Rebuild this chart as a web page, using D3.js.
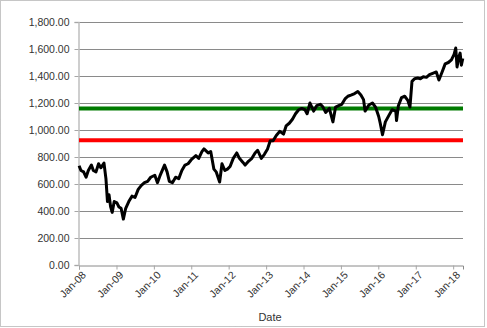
<!DOCTYPE html>
<html>
<head>
<meta charset="utf-8">
<script src="https://cdn.jsdelivr.net/npm/d3@7"></script>
<style>
  body { margin: 0; background: #fff; }
  text { font-family: "Liberation Sans", Arial, sans-serif; fill: #333; }
</style>
</head>
<body>
<script>
// monthly readings (plus a few extra swing points)
const dates = [
  "2008-01-02","2008-01-20","2008-02-15","2008-03-10","2008-04-01","2008-05-01","2008-05-20","2008-06-15","2008-07-10","2008-08-01","2008-09-01","2008-09-20","2008-10-05","2008-10-20","2008-11-05","2008-11-20","2008-12-10",
  "2009-01-05","2009-01-25","2009-02-15","2009-03-09","2009-04-01","2009-05-01","2009-06-01","2009-07-01","2009-08-01","2009-09-01","2009-10-01","2009-11-01","2009-12-01",
  "2010-01-10","2010-02-05","2010-03-01","2010-04-15","2010-05-10","2010-06-01","2010-07-01","2010-08-01","2010-09-01","2010-10-01","2010-11-01","2010-12-01",
  "2011-01-01","2011-02-15","2011-03-15","2011-04-15","2011-05-05","2011-06-15","2011-07-10","2011-08-10","2011-09-01","2011-10-05","2011-10-28","2011-11-25","2011-12-20",
  "2012-01-15","2012-02-15","2012-03-20","2012-04-15","2012-05-20","2012-06-10","2012-07-15","2012-08-15","2012-09-15","2012-10-10","2012-11-15","2012-12-15",
  "2013-01-15","2013-02-10","2013-03-10","2013-04-10","2013-05-15","2013-06-20","2013-07-15","2013-08-15","2013-09-15","2013-10-15","2013-11-15","2013-12-15",
  "2014-01-15","2014-02-05","2014-03-05","2014-04-10","2014-05-10","2014-06-15","2014-07-10","2014-08-05","2014-09-10","2014-10-15","2014-11-10","2014-12-10",
  "2015-01-10","2015-02-10","2015-03-10","2015-04-15","2015-05-15","2015-06-15","2015-07-15","2015-08-10","2015-08-25","2015-10-01","2015-11-05","2015-12-05",
  "2016-01-05","2016-01-20","2016-02-11","2016-03-10","2016-04-15","2016-05-15","2016-06-20","2016-06-27","2016-07-15","2016-08-15","2016-09-15","2016-10-15","2016-11-05","2016-11-25","2016-12-20",
  "2017-01-20","2017-02-15","2017-03-15","2017-04-15","2017-05-15","2017-06-15","2017-07-20","2017-08-15","2017-09-15","2017-10-15","2017-11-15","2017-12-15",
  "2018-01-10","2018-01-26","2018-02-08","2018-02-25","2018-03-10","2018-03-22","2018-04-05"
];
const values = [
  735,700,690,650,700,740,700,690,750,720,755,640,470,520,430,390,470,
  460,430,420,340,420,470,510,500,560,590,610,620,650,
  665,610,660,740,690,620,610,650,640,700,740,750,
  780,810,790,840,860,830,840,710,690,615,750,700,710,
  730,790,830,790,760,740,770,790,830,850,790,820,
  860,920,920,960,990,970,1030,1050,1080,1120,1150,1160,
  1150,1120,1200,1140,1180,1190,1170,1130,1160,1060,1170,1180,
  1190,1230,1250,1260,1270,1285,1260,1225,1140,1185,1200,1170,
  1100,1050,965,1060,1110,1150,1140,1070,1180,1240,1250,1220,1170,1360,1380,
  1385,1380,1395,1390,1410,1420,1430,1370,1430,1490,1500,1520,
  1560,1607,1467,1540,1570,1480,1530
];
const yTicks = [0,200,400,600,800,1000,1200,1400,1600,1800];
const xTicks = ["2008-01-01","2009-01-01","2010-01-01","2011-01-01","2012-01-01","2013-01-01","2014-01-01","2015-01-01","2016-01-01","2017-01-01","2018-01-01"];
const greenLevel = 1160;
const redLevel = 925;

const parse = d3.timeParse("%Y-%m-%d");
const data = dates.map((d, i) => ({date: parse(d), value: values[i]}));

const width = 487, height = 328;
const plotLeft = 79, plotRight = 463, plotTop = 22, plotBottom = 265;

const svg = d3.select("body").append("svg")
    .attr("width", width)
    .attr("height", height);

// outer chart border
svg.append("rect")
    .attr("x", 0.5).attr("y", 0.5)
    .attr("width", 484).attr("height", 326)
    .attr("fill", "none")
    .attr("stroke", "#8c8c8c")
    .attr("stroke-dasharray", "1,1");

const x = d3.scaleTime()
    .domain([parse("2008-01-01"), parse("2018-04-07")])
    .range([plotLeft, plotRight]);

const y = d3.scaleLinear()
    .domain([0, 1800])
    .range([plotBottom, plotTop]);

// gridlines
svg.append("g")
    .selectAll("line")
    .data(yTicks.slice(1))
    .join("line")
    .attr("x1", plotLeft).attr("x2", plotRight)
    .attr("y1", d => Math.round(y(d)) + 0.5)
    .attr("y2", d => Math.round(y(d)) + 0.5)
    .attr("stroke", "#8a8a8a")
    .attr("stroke-width", 1);

// y axis
const yAxis = svg.append("g")
    .attr("transform", `translate(${plotLeft - 0.5},0)`)
    .call(d3.axisLeft(y).tickValues(yTicks).tickFormat(d3.format(",.2f")).tickSize(4).tickPadding(5));
yAxis.selectAll("line").attr("stroke", "#a6a6a6");
yAxis.select(".domain").attr("stroke", "#bfbfbf").attr("stroke-width", 1.5);
yAxis.selectAll("text").style("font-size", "10.5px").attr("fill", "#333");

// x axis
const xAxis = svg.append("g")
    .attr("transform", `translate(0,${Math.round(plotBottom) + 0.5})`)
    .call(d3.axisBottom(x).tickValues(xTicks.map(parse)).tickFormat(d3.timeFormat("%b-%y")).tickSize(4));
xAxis.select(".domain").attr("stroke", "#8a8a8a");
xAxis.selectAll("line").attr("stroke", "#a6a6a6");
xAxis.selectAll("text")
    .style("font-size", "10.5px")
    .attr("fill", "#333")
    .attr("text-anchor", "end")
    .attr("dx", "-0.2em")
    .attr("dy", "0.5em")
    .attr("transform", "rotate(-45)");

// reference levels
svg.append("line")
    .attr("x1", plotLeft).attr("x2", plotRight)
    .attr("y1", y(redLevel)).attr("y2", y(redLevel))
    .attr("stroke", "#ff0000")
    .attr("stroke-width", 4);

svg.append("line")
    .attr("x1", plotLeft).attr("x2", plotRight)
    .attr("y1", y(greenLevel)).attr("y2", y(greenLevel))
    .attr("stroke", "#007a00")
    .attr("stroke-width", 4);

// the series
const line = d3.line()
    .x(d => x(d.date))
    .y(d => y(d.value));

svg.append("path")
    .datum(data)
    .attr("fill", "none")
    .attr("stroke", "#000")
    .attr("stroke-width", 3)
    .attr("stroke-linejoin", "round")
    .attr("d", line);

// axis title
svg.append("text")
    .attr("x", 270)
    .attr("y", 321)
    .attr("text-anchor", "middle")
    .style("font-size", "11px")
    .text("Date");
</script>
</body>
</html>
